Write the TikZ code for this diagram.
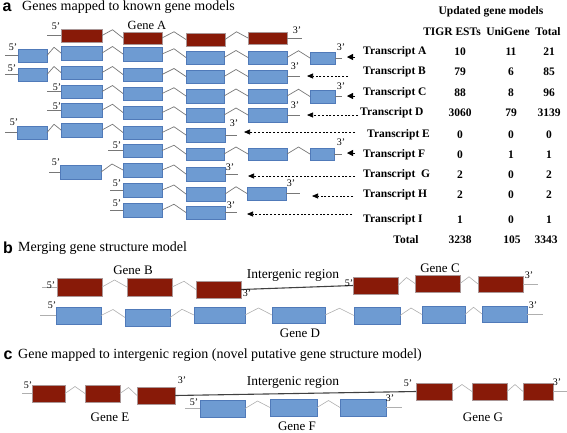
\documentclass[tikz,border=0pt]{standalone}
\usepackage{fontspec}
\setmainfont{Liberation Serif}
\newfontfamily\lblfont{Liberation Sans}
\usetikzlibrary{calc,arrows.meta}
\definecolor{exred}{RGB}{136,26,8}
\definecolor{exredb}{RGB}{170,150,150}
\definecolor{exblue}{RGB}{110,155,210}
\definecolor{exblueb}{RGB}{80,122,185}
\definecolor{intgray}{RGB}{120,120,120}
\definecolor{intlight}{RGB}{175,175,175}
\newcommand\ex[6]{\node[#1, minimum width={(#4-#3)*1pt}, minimum height={(#6-#5)*1pt}] (#2) at ({(#3+#4)/2},{(#5+#6)/2}) {};}
\newcommand\ilink[3]{\draw[#1] (#2.east) -- ($(#2.east)!0.5!(#3.west)+(0,-7)$) -- (#3.west);}
\tikzset{
 redex/.style={draw=exredb, line width=0.5pt, fill=exred, inner sep=0pt, outer sep=0pt},
 blueex/.style={draw=exblueb, line width=0.6pt, fill=exblue, inner sep=0pt, outer sep=0pt},
 intronA/.style={draw=intgray, line width=0.7pt},
 intronB/.style={draw=intlight, line width=0.6pt},
 flank/.style={draw=intgray, line width=0.7pt},
 flankB/.style={draw=intlight, line width=0.7pt},
 prime/.style={font=\fontsize{10}{11}\selectfont, inner sep=0pt},
 genelbl/.style={font=\fontsize{13}{14}\selectfont, inner sep=0pt},
 ttl/.style={font=\fontsize{14}{16}\selectfont, anchor=west, inner sep=0pt},
 plbl/.style={font=\lblfont\bfseries\fontsize{16}{18}\selectfont, inner sep=0pt},
 tbl/.style={font=\bfseries\fontsize{11.5}{13}\selectfont, inner sep=0pt},
 tblrow/.style={tbl, anchor=west},
 solidarr/.style={-{Triangle[length=6pt,width=6pt]}, line width=0.5pt},
 dasharr/.style={-{Triangle[length=6pt,width=5pt]}, dash pattern=on 2pt off 1.8pt, line width=0.7pt},
 igline/.style={draw=black!75, line width=1.1pt},
}
\begin{document}
\begin{tikzpicture}[x=1pt,y=-1pt]
\useasboundingbox (0,0) rectangle (567,432);
% ---------- panel a ----------
\node[plbl] (pa) at (7,7) {a};
\node[ttl] (tta) at (22,7) {Genes mapped to known gene models};
% Gene A
\ex{redex}{gA1}{61}{102}{29}{42}
\ex{redex}{gA2}{123}{162}{32}{44}
\ex{redex}{gA3}{186}{225}{33}{46}
\ex{redex}{gA4}{248}{287}{32}{44}
\ilink{intronA}{gA1}{gA2}\ilink{intronA}{gA2}{gA3}\ilink{intronA}{gA3}{gA4}
\draw[flank] (gA1.west) -- +(-14,0);
\draw[flank] (gA4.east) -- +(15,0);
\node[prime] (gA5p) at (56,26) {5'};
\node[prime] (gA3p) at (297,30) {3'};
\node[genelbl,font=\fontsize{12.5}{14}\selectfont] (gAl) at (147,25) {Gene A};
% Transcript A
\ex{blueex}{rA1}{18}{47}{49}{62}
\ex{blueex}{rA2}{61}{102}{46}{60}
\ex{blueex}{rA3}{123}{162}{47}{61}
\ex{blueex}{rA4}{186}{224}{51}{64}
\ex{blueex}{rA5}{248}{287}{51}{64}
\ex{blueex}{rA6}{310}{335}{52}{64}
\ilink{intronA}{rA1}{rA2}\ilink{intronA}{rA2}{rA3}\ilink{intronA}{rA3}{rA4}\ilink{intronA}{rA4}{rA5}\ilink{intronA}{rA5}{rA6}
\draw[flank] (rA1.west) -- +(-13,0);
\draw[flank] (rA6.east) -- +(7,0);
\node[prime] (rA5p) at (13,47) {5'};
\node[prime] (rA3p) at (341,47) {3'};
% Transcript B
\ex{blueex}{rB1}{18}{47}{68}{81}
\ex{blueex}{rB2}{61}{102}{66}{79}
\ex{blueex}{rB3}{123}{162}{68}{81}
\ex{blueex}{rB4}{186}{224}{70}{83}
\ex{blueex}{rB5}{248}{287}{70}{83}
\ilink{intronA}{rB1}{rB2}\ilink{intronA}{rB2}{rB3}\ilink{intronA}{rB3}{rB4}\ilink{intronA}{rB4}{rB5}
\draw[flank] (rB1.west) -- +(-13,0);
\draw[flank] (rB5.east) -- +(13,0);
\node[prime] (rB5p) at (12,68) {5'};
\node[prime] (rB3p) at (295,66) {3'};
% Transcript C
\ex{blueex}{rC2}{61}{102}{85}{98}
\ex{blueex}{rC3}{123}{162}{87}{100}
\ex{blueex}{rC4}{186}{224}{89}{103}
\ex{blueex}{rC5}{248}{287}{89}{103}
\ex{blueex}{rC6}{310}{335}{90}{103}
\ilink{intronA}{rC2}{rC3}\ilink{intronA}{rC3}{rC4}\ilink{intronA}{rC4}{rC5}\ilink{intronA}{rC5}{rC6}
\draw[flank] (rC2.west) -- +(-14,0);
\draw[flank] (rC6.east) -- +(7,0);
\node[prime] (rC5p) at (57,87) {5'};
\node[prime] (rC3p) at (341,86) {3'};
% Transcript D
\ex{blueex}{rD2}{61}{102}{103}{117}
\ex{blueex}{rD3}{123}{162}{106}{119}
\ex{blueex}{rD4}{186}{224}{108}{122}
\ex{blueex}{rD5}{248}{287}{108}{122}
\ilink{intronA}{rD2}{rD3}\ilink{intronA}{rD3}{rD4}\ilink{intronA}{rD4}{rD5}
\draw[flank] (rD2.west) -- +(-14,0);
\draw[flank] (rD5.east) -- +(13,0);
\node[prime] (rD5p) at (57,106) {5'};
\node[prime] (rD3p) at (295,105) {3'};
% Transcript E
\ex{blueex}{rE1}{17}{47}{126}{139}
\ex{blueex}{rE2}{61}{102}{123}{137}
\ex{blueex}{rE3}{123}{162}{126}{139}
\ex{blueex}{rE4}{186}{225}{128}{142}
\ilink{intronA}{rE1}{rE2}\ilink{intronA}{rE2}{rE3}\ilink{intronA}{rE3}{rE4}
\draw[flank] (rE1.west) -- +(-12,0);
\draw[flank] (rE4.east) -- +(12,0);
\node[prime] (rE5p) at (14,122) {5'};
\node[prime] (rE3p) at (234,123) {3'};
% Transcript F
\ex{blueex}{rF3}{123}{162}{144}{157}
\ex{blueex}{rF4}{186}{224}{148}{160}
\ex{blueex}{rF5}{248}{287}{148}{160}
\ex{blueex}{rF6}{310}{334}{148}{160}
\ilink{intronA}{rF3}{rF4}\ilink{intronA}{rF4}{rF5}\ilink{intronA}{rF5}{rF6}
\draw[flank] (rF3.west) -- +(-15,0);
\draw[flank] (rF6.east) -- +(8,0);
\node[prime] (rF5p) at (117,145) {5'};
\node[prime] (rF3p) at (341,142) {3'};
% Transcript G
\ex{blueex}{rG2}{60}{101}{165}{179}
\ex{blueex}{rG3}{123}{162}{163}{177}
\ex{blueex}{rG4}{186}{225}{167}{181}
\ilink{intronA}{rG2}{rG3}\ilink{intronA}{rG3}{rG4}
\draw[flank] (rG2.west) -- +(-11,0);
\draw[flank] (rG4.east) -- +(13,0);
\node[prime] (rG5p) at (56,162) {5'};
\node[prime] (rG3p) at (230,167) {3'};
% Transcript H
\ex{blueex}{rH3}{123}{162}{183}{197}
\ex{blueex}{rH4}{186}{225}{187}{201}
\ex{blueex}{rH5}{247}{286}{187}{200}
\ilink{intronA}{rH3}{rH4}\ilink{intronA}{rH4}{rH5}
\draw[flank] (rH3.west) -- +(-13,0);
\draw[flank] (rH5.east) -- +(14,0);
\node[prime] (rH5p) at (117,183) {5'};
\node[prime] (rH3p) at (291,183) {3'};
% Transcript I
\ex{blueex}{rI3}{123}{162}{203}{217}
\ex{blueex}{rI4}{186}{225}{206}{219}
\ilink{intronA}{rI3}{rI4}
\draw[flank] (rI3.west) -- +(-13,0);
\draw[flank] (rI4.east) -- +(12,0);
\node[prime] (rI5p) at (117,203) {5'};
\node[prime] (rI3p) at (231,205) {3'};
% arrows
\coordinate (sA) at (355,57);  \coordinate (eA) at (347,57);
\coordinate (sB) at (348,76);  \coordinate (eB) at (307,76);
\coordinate (sC) at (355,96);  \coordinate (eC) at (347,96);
\coordinate (sD) at (358,115); \coordinate (eD) at (307,115);
\coordinate (sE) at (355,132); \coordinate (eE) at (244,132);
\coordinate (sF) at (355,153); \coordinate (eF) at (347,153);
\coordinate (sG) at (355,176); \coordinate (eG) at (248,176);
\coordinate (sH) at (353,196); \coordinate (eH) at (312,196);
\coordinate (sI) at (352,214); \coordinate (eI) at (247,214);
\draw[solidarr] (sA) -- (eA);
\draw[dasharr] (sB) -- (eB);
\draw[solidarr] (sC) -- (eC);
\draw[dasharr] (sD) -- (eD);
\draw[dasharr] (sE) -- (eE);
\draw[solidarr] (sF) -- (eF);
\draw[dasharr] (sG) -- (eG);
\draw[dasharr] (sH) -- (eH);
\draw[dasharr] (sI) -- (eI);
% table
\node[tbl] (hUp) at (491,12) {Updated gene models};
\node[tbl] (hT) at (452,32) {TIGR ESTs};
\node[tbl] (hU) at (508,32) {UniGene};
\node[tbl] (hTot) at (548,32) {Total};
\foreach \r/\lab/\lx/\y/\a/\b/\c in {A/Transcript A/363/52/10/11/21, B/Transcript B/363/72/79/6/85, C/Transcript C/363/93/88/8/96, D/Transcript D/360/113/3060/79/3139, E/Transcript E/367/135/0/0/0, F/Transcript F/363/155/0/1/1, G/Transcript~~G/363/175/2/0/2, H/Transcript H/363/195/2/0/2, I/Transcript I/363/220/1/0/1}{
 \node[tblrow] (t\r) at (\lx,\y) {\lab};
 \node[tbl] (t\r x) at (460,\y) {\a};
 \node[tbl] (t\r y) at (511,\y) {\b};
 \node[tbl] (t\r z) at (549,\y) {\c};
}
\node[tbl] (tTot) at (406,240) {Total};
\node[tbl] (tTotx) at (460,240) {3238};
\node[tbl] (tToty) at (512,240) {105};
\node[tbl] (tTotz) at (546,240) {3343};
% ---------- panel b ----------
\node[plbl] (pb) at (8,248) {b};
\node[ttl] (ttb) at (18,248) {Merging gene structure model};
\ex{redex}{bB1}{57}{102}{278}{296}
\ex{redex}{bB2}{127}{172}{278}{296}
\ex{redex}{bB3}{196}{241}{281}{298}
\ex{redex}{bC1}{353}{398}{277}{294}
\ex{redex}{bC2}{415}{460}{275}{292}
\ex{redex}{bC3}{478}{523}{276}{292}
\ilink{intronB}{bB1}{bB2}\ilink{intronB}{bB2}{bB3}
\ilink{intronB}{bC1}{bC2}\ilink{intronB}{bC2}{bC3}
\draw[igline] (bB3.east) -- (bC1.west);
\draw[flankB] (bB1.west) -- +(-15,0);
\draw[flankB] (bC3.east) -- +(15,0);
\node[prime] (bB5p) at (51,285) {5'};
\node[prime] (bB3p) at (247,293) {3'};
\node[prime] (bC5p) at (349,283) {5'};
\node[prime] (bC3p) at (529,275) {3'};
\node[genelbl] (bBl) at (133,270) {Gene B};
\node[genelbl,font=\fontsize{13.5}{15}\selectfont] (bIg) at (293,275) {Intergenic region};
\node[genelbl] (bCl) at (440,268) {Gene C};
\ex{blueex}{bD1}{56}{101}{307}{324}
\ex{blueex}{bD2}{125}{170}{309}{326}
\ex{blueex}{bD3}{194}{245}{307}{323}
\ex{blueex}{bD4}{272}{325}{307}{323}
\ex{blueex}{bD5}{354}{400}{307}{324}
\ex{blueex}{bD6}{422}{465}{306}{323}
\ex{blueex}{bD7}{482}{527}{306}{322}
\ilink{intronB}{bD1}{bD2}\ilink{intronB}{bD2}{bD3}\ilink{intronB}{bD3}{bD4}\ilink{intronB}{bD4}{bD5}\ilink{intronB}{bD5}{bD6}\ilink{intronB}{bD6}{bD7}
\draw[flankB] (bD1.west) -- +(-16,0);
\draw[flankB] (bD7.east) -- +(16,0);
\node[prime] (bD5p) at (52,305) {5'};
\node[prime] (bD3p) at (533,305) {3'};
\node[genelbl] (bDl) at (300,333) {Gene D};
% ---------- panel c ----------
\node[plbl] (pc) at (8,355) {c};
\node[ttl] (ttc) at (18,355) {Gene mapped to intergenic region (novel putative gene structure model)};
\ex{redex}{cE1}{32}{65}{385}{402}
\ex{redex}{cE2}{85}{120}{385}{402}
\ex{redex}{cE3}{137}{175}{387}{404}
\ex{redex}{cG1}{416}{452}{383}{400}
\ex{redex}{cG2}{472}{507}{383}{400}
\ex{redex}{cG3}{523}{553}{383}{400}
\ilink{intronB}{cE1}{cE2}\ilink{intronB}{cE2}{cE3}
\ilink{intronB}{cG1}{cG2}\ilink{intronB}{cG2}{cG3}
\draw[igline] (cE3.east) -- (cG1.west);
\draw[flankB] (cE1.west) -- +(-10,0);
\draw[flankB] (cG3.east) -- +(14,0);
\node[prime] (cE5p) at (28,385) {5'};
\node[prime] (cE3p) at (182,380) {3'};
\node[prime] (cG5p) at (408,383) {5'};
\node[prime] (cG3p) at (557,382) {3'};
\node[genelbl,font=\fontsize{13.5}{15}\selectfont] (cIg) at (293,382) {Intergenic region};
\ex{blueex}{cF1}{200}{245}{400}{417}
\ex{blueex}{cF2}{270}{317}{399}{416}
\ex{blueex}{cF3}{340}{386}{399}{416}
\ilink{intronB}{cF1}{cF2}\ilink{intronB}{cF2}{cF3}
\draw[flankB] (cF1.west) -- +(-15,0);
\draw[flankB] (cF3.east) -- +(16,0);
\node[prime] (cF5p) at (194,402) {5'};
\node[prime] (cF3p) at (390,398) {3'};
\node[genelbl] (cEl) at (110,417) {Gene E};
\node[genelbl] (cGl) at (483,417) {Gene G};
\node[genelbl] (cFl) at (297,426) {Gene F};
\end{tikzpicture}
\end{document}
